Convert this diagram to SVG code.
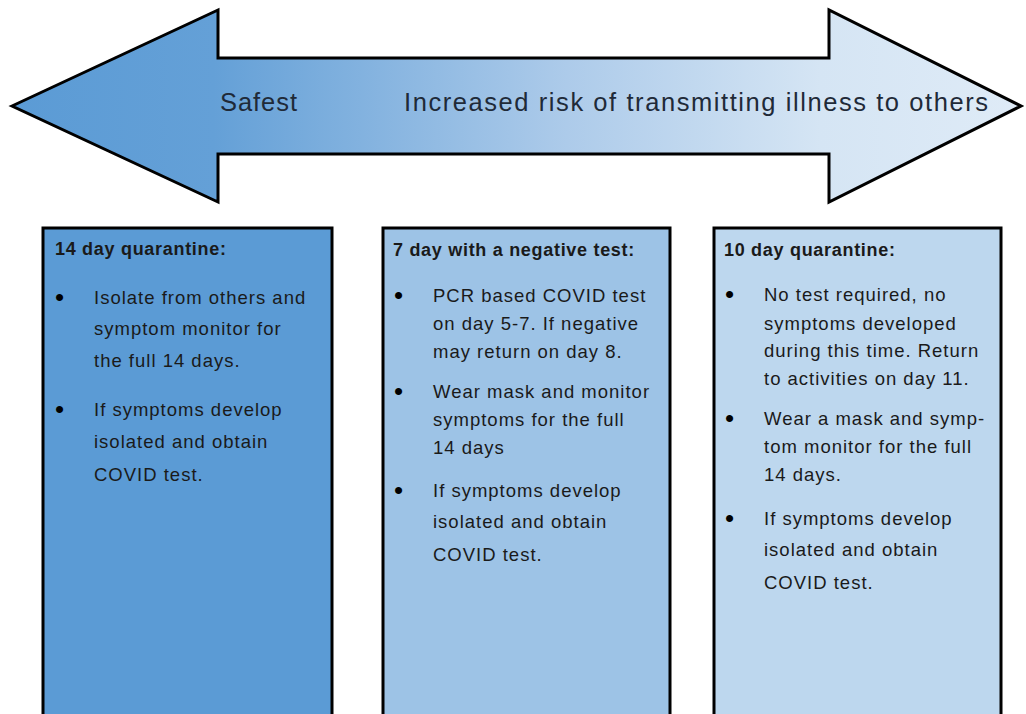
<svg xmlns="http://www.w3.org/2000/svg" width="1026" height="714" viewBox="0 0 1026 714">
<defs>
<linearGradient id="arrowGrad" gradientUnits="userSpaceOnUse" x1="12" y1="0" x2="1022" y2="0">
<stop offset="0" stop-color="#5B9BD5"/>
<stop offset="0.2" stop-color="#64A0D7"/>
<stop offset="0.55" stop-color="#ADCBEA"/>
<stop offset="0.8" stop-color="#D5E5F4"/>
<stop offset="1" stop-color="#DFEBF7"/>
</linearGradient>
<style>
.box{stroke:#000;stroke-width:3}
.title{font-family:"Liberation Sans",Arial,sans-serif;font-weight:bold;font-size:18px;letter-spacing:0.7px;fill:#1a1a1a}
.body{font-family:"Liberation Sans",Arial,sans-serif;font-size:18.5px;letter-spacing:1px;fill:#1a1a1a}
.bul{font-family:"Liberation Sans",Arial,sans-serif;font-size:26px;fill:#000}
.arrowtxt{font-family:"Liberation Sans",Arial,sans-serif;font-size:25.5px;fill:#1f2a38}
</style>
</defs>
<g id="arrow">
<polygon points="12,106 218,10 218,58 829,58 829,10 1021,106 829,202 829,154 218,154 218,202" fill="url(#arrowGrad)" stroke="#000" stroke-width="3" stroke-linejoin="miter"/>
<text class="arrowtxt" x="220" y="111" textLength="77">Safest</text>
<text class="arrowtxt" x="404" y="111" textLength="584" lengthAdjust="spacing">Increased risk of transmitting illness to others</text>
</g>
<g id="connectors"></g>
<g id="box1">
<rect class="box" x="43" y="228" width="289" height="500" fill="#5B9BD5"/>
<text class="title" x="55" y="255">14 day quarantine:</text>
<text class="bul" x="55" y="306">•</text>
<text class="body" x="94" y="304">Isolate from others and</text>
<text class="body" x="94" y="335">symptom monitor for</text>
<text class="body" x="94" y="367">the full 14 days.</text>
<text class="bul" x="55" y="418">•</text>
<text class="body" x="94" y="416">If symptoms develop</text>
<text class="body" x="94" y="448">isolated and obtain</text>
<text class="body" x="94" y="481">COVID test.</text>
</g>
<g id="box2">
<rect class="box" x="383" y="228" width="287" height="500" fill="#9DC3E6"/>
<text class="title" x="393" y="256">7 day with a negative test:</text>
<text class="bul" x="394" y="304">•</text>
<text class="body" x="433" y="302">PCR based COVID test</text>
<text class="body" x="433" y="330">on day 5-7.  If negative</text>
<text class="body" x="433" y="358">may return on day 8.</text>
<text class="bul" x="394" y="400">•</text>
<text class="body" x="433" y="398">Wear mask and monitor</text>
<text class="body" x="433" y="426">symptoms for  the full</text>
<text class="body" x="433" y="454">14 days</text>
<text class="bul" x="394" y="499">•</text>
<text class="body" x="433" y="497">If symptoms develop</text>
<text class="body" x="433" y="528">isolated and obtain</text>
<text class="body" x="433" y="561">COVID test.</text>
</g>
<g id="box3">
<rect class="box" x="714" y="228" width="287" height="500" fill="#BDD7EE"/>
<text class="title" x="724" y="256">10 day quarantine:</text>
<text class="bul" x="725" y="303">•</text>
<text class="body" x="764" y="301">No test required, no</text>
<text class="body" x="764" y="330">symptoms  developed</text>
<text class="body" x="764" y="357">during this time. Return</text>
<text class="body" x="764" y="385">to activities on day 11.</text>
<text class="bul" x="725" y="427">•</text>
<text class="body" x="764" y="425">Wear a mask and symp-</text>
<text class="body" x="764" y="453">tom monitor for the full</text>
<text class="body" x="764" y="481">14 days.</text>
<text class="bul" x="725" y="527">•</text>
<text class="body" x="764" y="525"> If symptoms develop</text>
<text class="body" x="764" y="556">isolated and obtain</text>
<text class="body" x="764" y="589">COVID test.</text>
</g>
</svg>
